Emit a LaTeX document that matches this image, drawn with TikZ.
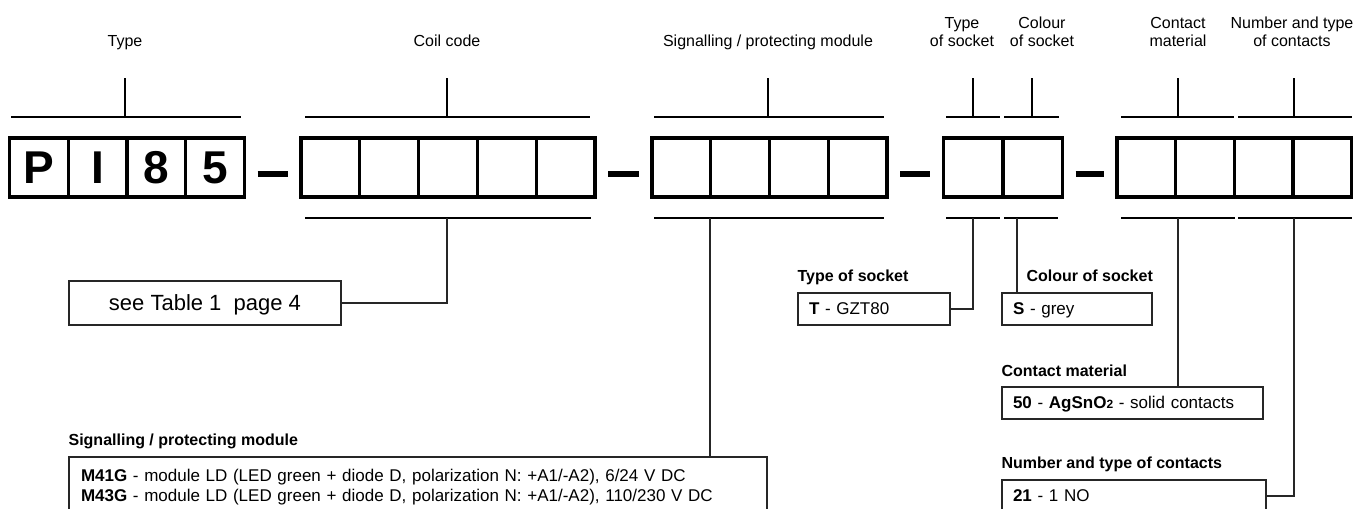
\documentclass[tikz,border=0pt]{standalone}
\usepackage{fontspec}
\setmainfont{Liberation Sans}
\usepackage{tikz}
\usetikzlibrary{positioning}
\newcommand{\lblfont}{\fontsize{16}{18}\selectfont}
\newcommand{\ttlfont}{\fontsize{16}{18}\selectfont\bfseries}
\newcommand{\boxfont}{\fontsize{17}{20}\selectfont}
\newcommand{\bigfont}{\fontsize{22}{26}\selectfont}
\newcommand{\cellfont}{\fontsize{46}{50}\selectfont\bfseries}
\newcommand{\smallfont}{\fontsize{12}{14}\selectfont}
\newcommand{\topgroup}[4]{
  \draw[grpline] (#2,117) -- (#3,117);
  \coordinate (#1) at (#4,117);
  \draw[tick] (#1) -- ++(0,-39);
}
\newcommand{\botgroup}[4]{
  \draw[grpline] (#2,218) -- (#3,218);
  \coordinate (#1) at (#4,218);
}
\tikzset{
  cell/.style={draw, line width=3.2pt, minimum width=58.75pt, minimum height=59pt,
    inner sep=0pt, font=\cellfont},
  sep/.style={line width=6pt, shorten <=11.5pt, shorten >=11.5pt},
  grpline/.style={line width=2pt},
  tick/.style={line width=1.2pt},
  conn/.style={line width=1.2pt, draw=black!85},
  lbl/.style={anchor=base, inner sep=0pt, align=center, font=\lblfont},
  ttl/.style={anchor=base west, inner sep=0pt, font=\ttlfont},
  infobox/.style={draw=black!85, line width=1.2pt, inner xsep=11pt, inner ysep=0pt,
    align=left, font=\boxfont, text height=11.5pt, text depth=0pt}
}
\begin{document}
\begin{tikzpicture}[x=1pt, y=-1pt]
  \useasboundingbox (0,0) rectangle (1353,509);
  \clip (0,0) rectangle (1353,509);

  \node[lbl] (ltype) at (125,46)  {Type};
  \node[lbl] (lcoil) at (447,46)  {Coil code};
  \node[lbl] (lsig)  at (768,46)  {Signalling / protecting module};
  \node[lbl] (lsock) at (962,46)  {Type\\of socket};
  \node[lbl] (lcol)  at (1042,46) {Colour\\of socket};
  \node[lbl] (lmat)  at (1178,46) {Contact\\material};
  \node[lbl] (lnum)  at (1292,46) {Number and type\\of contacts};

  \topgroup{ttype}{11}{241}{125}
  \topgroup{tcoil}{305}{590}{447}
  \topgroup{tsig}{654}{884}{768}
  \topgroup{tsock}{946}{1000}{973}
  \topgroup{tcol}{1004}{1059}{1032}
  \topgroup{tmat}{1121}{1234}{1178}
  \topgroup{tnum}{1238}{1352}{1294}

  \foreach \t [count=\i from 0] in {P,I,8,5}
    \node[cell] (type\i) at ({38.9+58.75*\i},167.5) {\t};
  \foreach \i in {0,...,4}
    \node[cell] (coil\i) at ({330.4+58.8*\i},167.5) {};
  \foreach \i in {0,...,3}
    \node[cell] (sig\i) at ({681.4+58.75*\i},167.5) {};
  \foreach \i in {0,1}
    \node[cell, minimum width=59.5pt] (sock\i) at ({973.2+59.5*\i},167.5) {};
  \foreach \i in {0,...,3}
    \node[cell] (cont\i) at ({1146.4+58.6*\i},167.5) {};

  \draw[sep] ([yshift=-6pt]type3.east) -- ([yshift=-6pt]coil0.west);
  \draw[sep] ([yshift=-6pt]coil4.east) -- ([yshift=-6pt]sig0.west);
  \draw[sep] ([yshift=-6pt]sig3.east) -- ([yshift=-6pt]sock0.west);
  \draw[sep] ([yshift=-6pt]sock1.east) -- ([yshift=-6pt]cont0.west);

  \botgroup{bcoil}{305}{591}{447}
  \botgroup{bsig}{654}{884}{710}
  \botgroup{bsock}{946}{1000}{973}
  \botgroup{bcol}{1004}{1058}{1017}
  \botgroup{bmat}{1121}{1235}{1178}
  \botgroup{bnum}{1238}{1352}{1294}

  \node[infobox, font=\bigfont, align=center, minimum width=272pt, minimum height=44pt,
    text height=15.8pt] (seetab) at (205,303) {see Table 1~~page 4};
  \node[infobox, text width=130pt, minimum height=32pt] (tsbox) at (874,309) {\textbf{T} - GZT80};
  \node[infobox, text width=128pt, minimum height=32pt] (csbox) at (1077,309) {\textbf{S} - grey};
  \node[infobox, text width=239pt, minimum height=32pt] (cmbox) at (1132.5,403)
    {\textbf{50} - \textbf{AgSnO{\smallfont 2}} - solid contacts};
  \node[infobox, text width=242pt, minimum height=32pt] (ncbox) at (1134,496) {\textbf{21} - 1 NO};
  \node[infobox, text width=674pt, inner xsep=12pt, minimum height=58pt, text depth=20pt]
    (sigbox) at (418,486)
    {\textbf{M41G} - module LD (LED green + diode D, polarization N: +A1/-A2), 6/24 V DC\\
     \textbf{M43G} - module LD (LED green + diode D, polarization N: +A1/-A2), 110/230 V DC};

  \node[ttl] (tstitle)  at ([yshift=11pt]tsbox.north west) {Type of socket};
  \node[ttl] (cstitle)  at ([xshift=25pt,yshift=11pt]csbox.north west) {Colour of socket};
  \node[ttl] (cmtitle)  at ([yshift=10pt]cmbox.north west) {Contact material};
  \node[ttl] (nctitle)  at ([yshift=11pt]ncbox.north west) {Number and type of contacts};
  \node[ttl] (sigtitle) at ([yshift=11pt]sigbox.north west) {Signalling / protecting module};

  \draw[conn] (bcoil) |- (seetab.east);
  \draw[conn] (bsig) -- (bsig |- sigbox.north);
  \draw[conn] (bsock) |- (tsbox.east);
  \draw[conn] (bcol) -- (bcol |- csbox.north);
  \draw[conn] (bmat) -- (bmat |- cmbox.north);
  \draw[conn] (bnum) |- (ncbox.east);
\end{tikzpicture}
\end{document}
